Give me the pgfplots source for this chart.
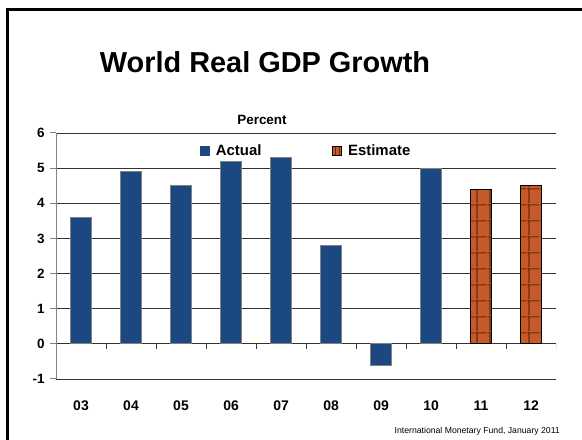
\documentclass[border=0pt]{standalone}
\usepackage{fontspec}
\setmainfont{Liberation Sans}
\usepackage{pgfplots}
\pgfplotsset{compat=1.18}
\usetikzlibrary{patterns.meta}

\definecolor{actualblue}{RGB}{28,72,130}
\definecolor{estorange}{RGB}{198,90,40}
\definecolor{estline}{RGB}{105,42,16}
\definecolor{axisgray}{RGB}{130,130,130}

\tikzdeclarepattern{
  name=brickgrid,
  type=uncolored,
  bottom left={(0bp,0bp)},
  top right={(12.5bp,15.5bp)},
  tile size={(12.5bp,15.5bp)},
  code={
    \draw[line width=1.2bp] (0bp,14.5bp) -- (12.5bp,14.5bp);
    \draw[line width=1.2bp] (2bp,0bp) -- (2bp,15.5bp);
  }
}

\begin{document}
\begin{tikzpicture}[x=1bp,y=1bp]
\useasboundingbox (0,0) rectangle (582,440);

% slide frame
\draw[line width=2.5bp] (7.5,-5) -- (7.5,430.5) -- (600,430.5);

% titles
\node[anchor=base] at (265,367) {\fontsize{29}{34}\selectfont\bfseries World Real GDP Growth};
\node[anchor=base] at (262,315) {\fontsize{13.5}{15}\selectfont\bfseries Percent};
\node[anchor=base east, inner sep=0pt] at (560,6) {\fontsize{8.7}{10}\selectfont International Monetary Fund, January 2011};

\begin{axis}[
    at={(56bp,61bp)},
    anchor=south west,
    scale only axis,
    width=500bp,
    height=246bp,
    ybar,
    bar width=21bp,
    xmin=-0.5, xmax=9.5,
    ymin=-1, ymax=6,
    xtick={0,...,9},
    xticklabels={03,04,05,06,07,08,09,10,11,12},
    ytick={-1,0,...,6},
    axis y line*=left,
    axis x line*=bottom,
    x axis line style={draw=none},
    y axis line style={draw=axisgray, line width=1bp},
    xtick style={draw=none},
    ytick style={draw=axisgray, line width=1bp},
    major tick length=6bp,
    tick align=outside,
    ymajorgrids,
    grid style={black!80, line width=0.9bp},
    /pgf/number format/assume math mode=true,
    yticklabel style={font=\fontsize{13.5}{15}\selectfont\bfseries, anchor=east, xshift=-2bp},
    xticklabel style={font=\fontsize{14}{16}\selectfont\bfseries, anchor=base, yshift=-26bp},
    legend columns=2,
    legend style={
        draw=none, fill=none,
        at={(rel axis cs:0.288,0.927)}, anchor=west,
        inner sep=0pt, outer sep=0pt,
        font=\fontsize{15}{18}\selectfont\bfseries,
        nodes={inner sep=0pt},
        /tikz/every odd column/.append style={column sep=6bp},
        /tikz/every even column/.append style={column sep=71bp},
    },
]

\addplot[fill=actualblue, draw=axisgray, line width=0.8bp, bar shift=0pt,
    legend image code/.code={\fill[actualblue] (0bp,-4.5bp) rectangle (9bp,4.5bp);}]
    coordinates {(0,3.6) (1,4.9) (2,4.5) (3,5.2) (4,5.3) (5,2.8) (6,-0.6) (7,5.0)};
\addlegendentry{Actual}

\addplot[fill=estorange, draw=black, line width=0.9bp, bar shift=0pt,
    legend image code/.code={
        \path[fill=estorange, draw=none] (0bp,-4.5bp) rectangle (9bp,4.5bp);
        \path[draw=estline, fill=none, line width=1bp] (3bp,-4.5bp) -- (3bp,4.5bp) (7bp,-4.5bp) -- (7bp,4.5bp);
        \path[draw=black, fill=none, line width=0.6bp] (0bp,-4.5bp) rectangle (9bp,4.5bp);}]
    coordinates {(8,4.4) (9,4.5)};
\addlegendentry{Estimate}

% brick pattern over the estimate bars (same values)
\addplot[draw=none, bar shift=0pt, pattern=brickgrid, pattern color=estline, forget plot]
    coordinates {(8,4.4) (9,4.5)};
\addplot[fill=none, draw=black, line width=0.9bp, bar shift=0pt, forget plot]
    coordinates {(8,4.4) (9,4.5)};

% category separator ticks on the zero line
\pgfplotsinvokeforeach{0.5,1.5,...,9.5}{
    \draw[black!80, line width=0.9bp] (axis cs:#1,0) -- ++(0bp,-5bp);
}
\end{axis}
\end{tikzpicture}
\end{document}
